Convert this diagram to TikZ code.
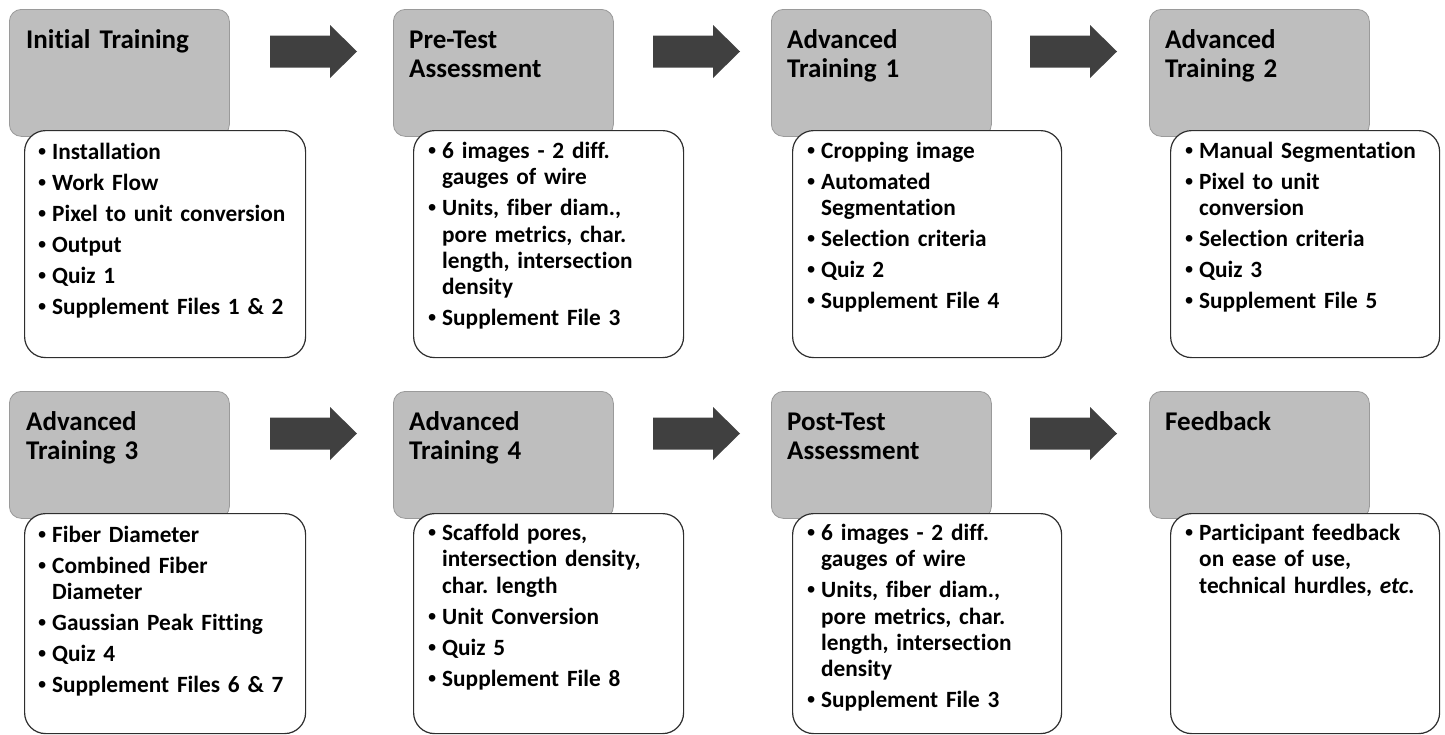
\documentclass[tikz,border=0pt]{standalone}
\usepackage{fontspec}
\setmainfont{Carlito}[Ligatures={NoCommon}]
\newfontfamily\bulfont{Liberation Sans}
\frenchspacing
\definecolor{boxgray}{HTML}{BEBEBE}
\definecolor{boxgrayline}{HTML}{9A9A9A}
\definecolor{arrowgray}{HTML}{404040}
\definecolor{lineblack}{HTML}{2E2E2E}
\newcommand\bitem[1]{\noindent\hangindent=14pt\hangafter=1\makebox[14pt][l]{\bulfont\bfseries\textbullet}\rule{0pt}{17pt}#1\par}
\tikzset{
  graybox/.style={draw=boxgrayline, line width=0.8pt, fill=boxgray, rounded corners=12pt,
    minimum width=220pt, minimum height=127pt, anchor=north west, inner sep=0pt},
  whitebox/.style={draw=lineblack, line width=1.2pt, fill=white, rounded corners=21pt,
    minimum width=#1, anchor=north west, inner sep=0pt},
  titletext/.style={anchor=north west, inner sep=0pt, text width=200pt,
    font=\fontsize{27}{29.6}\selectfont\bfseries},
  itemtext/.style={anchor=north west, inner sep=0pt, text width=#1,
    font=\fontsize{23.3}{26.4}\selectfont\bfseries,
    execute at begin node={\raggedright\frenchspacing\setlength{\parskip}{4.6pt}\setlength{\parindent}{0pt}}},
  blockarrow/.style={fill=arrowgray, draw=none}
}
\newcommand\blockarr[2]{%
  \fill[blockarrow] (#1,#2-16) -- (#1+60,#2-16) -- (#1+60,#2-26.5) -- (#1+87,#2) --
    (#1+60,#2+26.5) -- (#1+60,#2+16) -- (#1,#2+16) -- cycle;}
\begin{document}
\begin{tikzpicture}[x=1pt,y=-1pt]
\useasboundingbox (0,0) rectangle (1445,734);
% ---------- Top row ----------
\node[graybox] (g1) at (9,9) {};
\node[graybox] (g2) at (393,9) {};
\node[graybox] (g3) at (771,9) {};
\node[graybox] (g4) at (1149,9) {};
\node[whitebox=281pt, minimum height=227pt] (w1) at (24,130) {};
\node[whitebox=270pt, minimum height=227pt] (w2) at (413,130) {};
\node[whitebox=269pt, minimum height=227pt] (w3) at (792,130) {};
\node[whitebox=269pt, minimum height=227pt] (w4) at (1170,130) {};
\node[titletext] (t1) at (26,29) {\rule{0pt}{19pt}Initial Training};
\node[titletext] (t2) at (409,29) {\rule{0pt}{19pt}Pre-Test\newline Assessment};
\node[titletext] (t3) at (787,29) {\rule{0pt}{19pt}Advanced\newline Training 1};
\node[titletext] (t4) at (1165,29) {\rule{0pt}{19pt}Advanced\newline Training 2};
\node[itemtext=255pt] (i1) at (38,142) {%
  \bitem{Installation}\bitem{Work Flow}\bitem{Pixel to unit conversion}%
  \bitem{Output}\bitem{Quiz 1}\bitem{Supplement Files 1 \& 2}};
\node[itemtext=255pt] (i2) at (428,141) {%
  \bitem{6 images - 2 diff.\newline gauges of wire}%
  \bitem{Units, fiber diam.,\newline pore metrics, char.\newline length, intersection\newline density}%
  \bitem{Supplement File 3}};
\node[itemtext=255pt] (i3) at (807,141) {%
  \bitem{Cropping image}\bitem{Automated\newline Segmentation}\bitem{Selection criteria}%
  \bitem{Quiz 2}\bitem{Supplement File 4}};
\node[itemtext=255pt] (i4) at (1185,141) {%
  \bitem{Manual Segmentation}\bitem{Pixel to unit\newline conversion}\bitem{Selection criteria}%
  \bitem{Quiz 3}\bitem{Supplement File 5}};
\blockarr{270}{51.5}
\blockarr{653}{51.5}
\blockarr{1030}{51.5}
% ---------- Bottom row ----------
\node[graybox] (g5) at (9,391) {};
\node[graybox] (g6) at (393,391) {};
\node[graybox] (g7) at (771,391) {};
\node[graybox] (g8) at (1149,391) {};
\node[whitebox=281pt, minimum height=220pt] (w5) at (24,513) {};
\node[whitebox=270pt, minimum height=220pt] (w6) at (413,513) {};
\node[whitebox=269pt, minimum height=220pt] (w7) at (792,513) {};
\node[whitebox=269pt, minimum height=220pt] (w8) at (1170,513) {};
\node[titletext] (t5) at (26,411) {\rule{0pt}{19pt}Advanced\newline Training 3};
\node[titletext] (t6) at (409,411) {\rule{0pt}{19pt}Advanced\newline Training 4};
\node[titletext] (t7) at (787,411) {\rule{0pt}{19pt}Post-Test\newline Assessment};
\node[titletext] (t8) at (1165,411) {\rule{0pt}{19pt}Feedback};
\node[itemtext=255pt] (i5) at (38,525) {%
  \bitem{Fiber Diameter}\bitem{Combined Fiber\newline Diameter}\bitem{Gaussian Peak Fitting}%
  \bitem{Quiz 4}\bitem{Supplement Files 6 \& 7}};
\node[itemtext=255pt] (i6) at (428,523) {%
  \bitem{Scaffold pores,\newline intersection density,\newline char. length}%
  \bitem{Unit Conversion}\bitem{Quiz 5}\bitem{Supplement File 8}};
\node[itemtext=255pt] (i7) at (807,523) {%
  \bitem{6 images - 2 diff.\newline gauges of wire}%
  \bitem{Units, fiber diam.,\newline pore metrics, char.\newline length, intersection\newline density}%
  \bitem{Supplement File 3}};
\node[itemtext=255pt] (i8) at (1185,523) {%
  \bitem{Participant feedback\newline on ease of use,\newline technical hurdles, \textit{etc.}}};
\blockarr{270}{433.5}
\blockarr{653}{433.5}
\blockarr{1030}{433.5}
\end{tikzpicture}
\end{document}
